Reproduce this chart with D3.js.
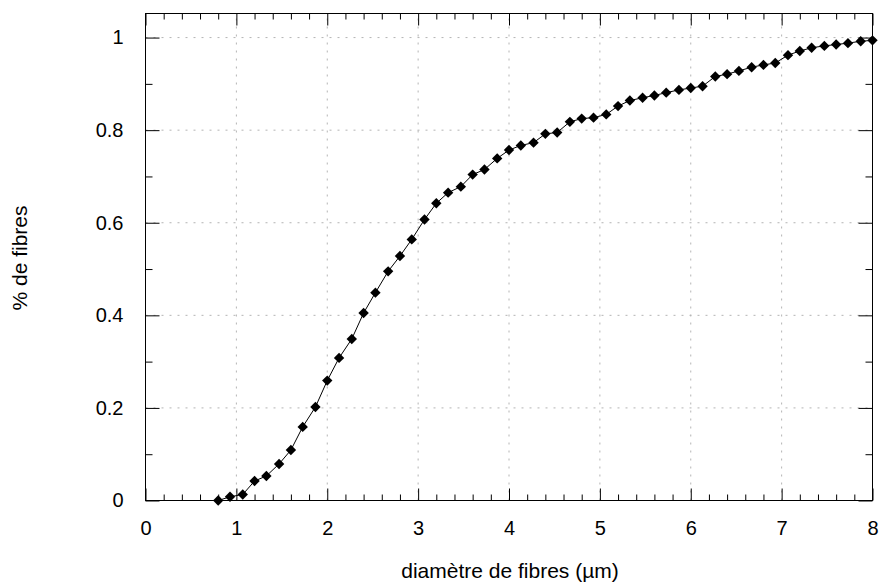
<!DOCTYPE html>
<html><head><meta charset="utf-8">
<script src="https://cdn.jsdelivr.net/npm/d3@7"></script>
<style>body{margin:0;background:#fff}svg{display:block}text{font-family:"Liberation Sans",Arial,sans-serif;fill:#000}</style>
</head><body><svg id="c" width="882" height="585"></svg>
<script>
const diam = [0.8,0.93,1.07,1.2,1.33,1.47,1.6,1.73,1.87,2.0,2.13,2.27,2.4,2.53,2.67,2.8,2.93,3.07,3.2,3.33,3.47,3.6,3.73,3.87,4.0,4.13,4.27,4.4,4.53,4.67,4.8,4.93,5.07,5.2,5.33,5.47,5.6,5.73,5.87,6.0,6.13,6.27,6.4,6.53,6.67,6.8,6.93,7.07,7.2,7.33,7.47,7.6,7.73,7.87,8.0];
const frac = [0.0,0.008,0.013,0.042,0.053,0.079,0.109,0.159,0.202,0.259,0.308,0.349,0.405,0.449,0.495,0.528,0.564,0.607,0.642,0.665,0.678,0.704,0.715,0.739,0.757,0.767,0.773,0.792,0.795,0.818,0.825,0.827,0.834,0.852,0.864,0.870,0.875,0.881,0.887,0.891,0.895,0.916,0.921,0.928,0.936,0.941,0.945,0.962,0.971,0.978,0.982,0.985,0.988,0.992,0.994];
const xTicks = [0,1,2,3,4,5,6,7,8];
const yTicks = [0,0.2,0.4,0.6,0.8,1];
const xLabel = "diamètre de fibres (µm)";
const yLabel = "% de fibres";

const L=145.5, R=872.5, T=13.5, B=500.5;
const x = d3.scaleLinear().domain([0,8]).range([L,R]);
const y = d3.scaleLinear().domain([0,1.052]).range([B,T]);
const svg = d3.select("#c");

// grid
const g = svg.append("g");
g.selectAll(".gx").data(xTicks.filter(v=>v>0&&v<8)).enter().append("line")
  .attr("x1",d=>x(d)).attr("x2",d=>x(d)).attr("y1",B).attr("y2",T)
  .attr("stroke","#b4b4b4").attr("stroke-width",1).attr("stroke-dasharray","2,6");
g.selectAll(".gy").data(yTicks.filter(v=>v>0)).enter().append("line")
  .attr("y1",d=>y(d)).attr("y2",d=>y(d)).attr("x1",L).attr("x2",R)
  .attr("stroke","#b4b4b4").attr("stroke-width",1).attr("stroke-dasharray","2,6");

// axes with inward ticks
const xMinor = d3.range(0,8.001,0.2).filter(v=>Math.abs(v-Math.round(v))>1e-6);
const yMinor = d3.range(0.1,1.05,0.2);
const axB = d3.axisBottom(x).tickValues(xTicks).tickFormat(d3.format("d")).tickSizeInner(-12).tickSizeOuter(0).tickPadding(20);
const axT = d3.axisTop(x).tickValues(xTicks).tickFormat("").tickSizeInner(-12).tickSizeOuter(0);
const axL = d3.axisLeft(y).tickValues(yTicks).tickFormat(d=>d===0||d===1?d3.format("d")(d):d3.format(".1f")(d)).tickSizeInner(-14).tickSizeOuter(0).tickPadding(22);
const axR = d3.axisRight(y).tickValues(yTicks).tickFormat("").tickSizeInner(-14).tickSizeOuter(0);
const mB = d3.axisBottom(x).tickValues(xMinor).tickFormat("").tickSizeInner(-6).tickSizeOuter(0);
const mT = d3.axisTop(x).tickValues(xMinor).tickFormat("").tickSizeInner(-6).tickSizeOuter(0);
const mL = d3.axisLeft(y).tickValues(yMinor).tickFormat("").tickSizeInner(-7).tickSizeOuter(0);
const mR = d3.axisRight(y).tickValues(yMinor).tickFormat("").tickSizeInner(-7).tickSizeOuter(0);
function put(ax,tr){const a=svg.append("g").attr("transform",tr).call(ax);a.select(".domain").remove();a.selectAll("line").attr("stroke","#000");a.selectAll("text").attr("font-size",20).attr("font-family","Liberation Sans, Arial, sans-serif");return a;}
put(axB,`translate(0,${B})`); put(axT,`translate(0,${T})`);
put(axL,`translate(${L},0)`); put(axR,`translate(${R},0)`);
put(mB,`translate(0,${B})`); put(mT,`translate(0,${T})`);
put(mL,`translate(${L},0)`); put(mR,`translate(${R},0)`);

// frame
svg.append("rect").attr("x",L).attr("y",T).attr("width",R-L).attr("height",B-T)
  .attr("fill","none").attr("stroke","#000").attr("stroke-width",1);

// series
const pts = diam.map((d,i)=>[d,frac[i]]);
svg.append("path").datum(pts).attr("fill","none").attr("stroke","#000").attr("stroke-width",1)
  .attr("d",d3.line().x(d=>x(d[0])).y(d=>y(d[1])));
const s=5.2;
svg.selectAll(".pt").data(pts).enter().append("path")
  .attr("d",d=>`M${x(d[0])},${y(d[1])-s}L${x(d[0])+s},${y(d[1])}L${x(d[0])},${y(d[1])+s}L${x(d[0])-s},${y(d[1])}Z`)
  .attr("fill","#000");

// titles
svg.append("text").attr("x",(L+R)/2+1).attr("y",578).attr("text-anchor","middle").attr("font-size",21).text(xLabel);
svg.append("text").attr("transform",`translate(27,258) rotate(-90)`).attr("text-anchor","middle").attr("font-size",21).text(yLabel);
</script></body></html>
